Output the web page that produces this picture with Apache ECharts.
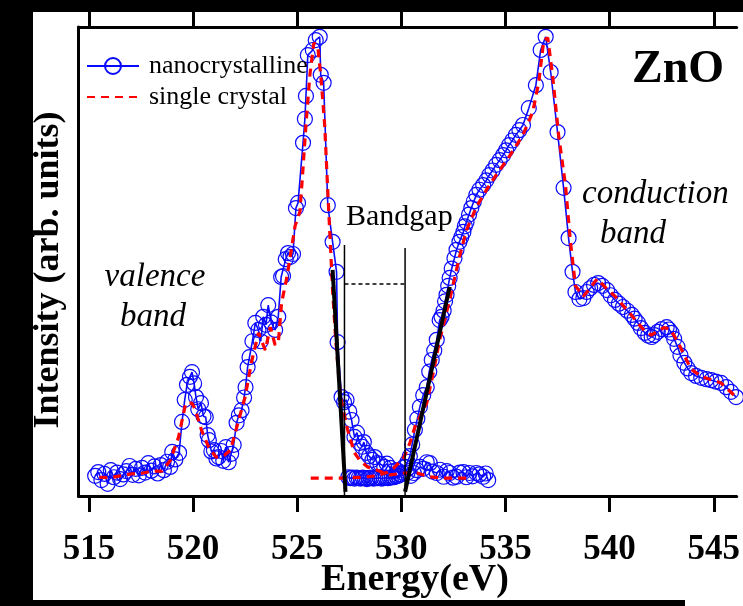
<!DOCTYPE html>
<html><head><meta charset="utf-8">
<script src="https://cdn.jsdelivr.net/npm/echarts@6/dist/echarts.min.js"></script>
<style>
html,body{margin:0;padding:0;background:#000;width:743px;height:606px;overflow:hidden;}
#bg{position:absolute;left:33px;top:12px;width:710px;height:588px;background:#fff;}
#bg2{position:absolute;left:685px;top:600px;width:58px;height:6px;background:#fff;}
#chart{position:absolute;left:0;top:0;width:743px;height:606px;}
</style></head><body>
<div id="bg"></div><div id="bg2"></div><div id="chart"></div>
<script>
// ---- data (energy in eV, intensity in arbitrary units 0..100) ----
const energyTicks = [515, 520, 525, 530, 535, 540, 545];

const nanoValence = [
[515.30,4.3],[515.45,5.1],[515.60,3.4],[515.75,4.7],[515.90,2.6],[516.05,5.5],[516.20,4.0],[516.35,5.0],[516.50,3.6],[516.65,4.6],
[516.80,5.3],[516.95,6.4],[517.10,4.5],[517.25,5.8],[517.40,4.4],[517.55,6.0],[517.70,5.0],[517.85,7.0],[518.00,5.4],[518.15,6.3],
[518.30,4.8],[518.45,6.6],[518.60,5.5],[518.75,7.3],[518.90,6.2],[519.00,9.4],[519.15,7.8],[519.33,9.2],[519.47,15.8],[519.60,20.5],
[519.71,23.7],[519.85,25.4],[519.95,26.4],[520.05,24.0],[520.14,21.1],[520.25,18.5],[520.38,19.8],[520.50,17.0],[520.61,16.8],[520.70,13.0],
[520.76,11.9],[520.88,9.5],[521.00,9.8],[521.12,8.0],[521.23,8.3],[521.35,9.6],[521.45,7.5],[521.57,10.4],[521.71,7.2],[521.83,9.0],
[521.95,10.9],[522.09,15.6],[522.20,17.2],[522.33,18.3],[522.45,21.0],[522.52,23.2],[522.62,27.5],[522.71,29.6],[522.85,33.0],[522.99,36.9],
[523.14,35.4],[523.25,33.0],[523.37,38.2],[523.50,36.5],[523.61,40.7],[523.75,37.0],[523.94,35.4],[524.09,38.2],[524.23,46.7],[524.32,46.9],
[524.45,50.5],[524.56,51.8],[524.68,51.0],[524.80,51.6],[524.94,61.4],[525.04,62.5],[525.28,75.3],[525.37,80.4],[525.42,85.3],[525.51,94.0],
[525.75,95.1],[525.89,97.2],[526.08,97.9],[526.13,89.8],[526.27,88.1],[526.47,62.0],[526.70,54.2],[526.89,47.8],[526.94,32.8],[527.13,21.1],
[527.25,20.0],[527.37,20.5],[527.50,18.0],[527.61,16.2],[527.75,12.6],[527.87,13.5],[527.99,11.3],[528.12,10.5],[528.20,11.5],[528.32,9.2],
[528.45,8.5],[528.61,7.7],[528.72,8.3],[528.84,7.0],[529.00,6.8],[529.18,6.2],[529.30,6.9],[529.46,6.0],[529.60,5.3],[529.80,5.5],
[529.95,4.6],[530.13,6.2],[530.30,5.0],[530.45,4.3],[530.60,4.9],[530.75,5.5],[530.89,6.2],[531.05,5.8],[531.22,7.2],[531.37,7.0],
[531.50,5.2],[531.70,4.9],[531.85,5.6],[532.03,4.1],[532.18,5.3],[532.32,4.9],[532.48,3.9],[532.65,4.1],[532.80,5.0],[532.98,5.1],
[533.12,4.0],[533.27,4.9],[533.42,4.2],[533.60,4.9],[533.75,4.6],[533.93,4.1],[534.05,4.8],[534.17,3.4]
];

const nanoConduction = [
[527.45,4.0],[527.55,3.8],[527.65,3.9],[527.75,3.7],[527.85,3.9],[527.95,3.8],[528.05,3.7],[528.15,3.9],[528.25,3.8],[528.35,3.6],
[528.45,3.8],[528.55,3.9],[528.65,3.7],[528.75,3.8],[528.85,3.8],[528.95,3.9],[529.05,3.7],[529.15,3.8],[529.25,3.9],[529.35,3.8],
[529.45,3.9],[529.55,4.0],[529.65,4.0],[529.75,4.2],[529.85,4.3],[529.95,4.6],[530.05,5.0],[530.20,6.2],[530.30,7.3],[530.41,8.5],
[530.52,11.0],[530.65,14.1],[530.77,16.5],[530.89,19.0],[531.05,21.5],[531.22,23.2],[531.34,26.5],[531.46,29.0],[531.58,31.0],[531.70,33.3],
[531.84,37.5],[531.93,38.2],[532.03,39.5],[532.10,41.5],[532.17,42.9],[532.25,44.8],[532.32,46.5],[532.42,48.5],[532.55,50.7],[532.65,52.5],
[532.79,54.2],[532.88,55.2],[532.98,56.3],[533.05,57.5],[533.13,58.4],[533.25,60.0],[533.36,61.4],[533.48,62.8],[533.60,64.2],[533.75,65.3],
[533.93,66.3],[534.08,67.3],[534.22,68.4],[534.38,69.4],[534.55,70.6],[534.72,71.6],[534.89,72.7],[535.03,73.7],[535.17,74.8],[535.33,75.8],
[535.50,77.0],[535.67,78.0],[535.84,79.1],[536.12,82.7],[536.46,87.6],[536.69,95.1],[536.93,97.9],[537.17,90.4],[537.50,77.6],[537.79,65.7],
[538.03,55.0],[538.22,47.8],[538.36,43.5],[538.55,42.0],[538.74,42.2],[538.90,43.5],[539.07,44.3],[539.25,45.0],[539.45,45.4],[539.65,44.8],
[539.88,43.9],[540.05,42.8],[540.26,41.8],[540.45,41.0],[540.64,40.3],[540.85,39.5],[541.07,38.6],[541.20,37.8],[541.36,36.9],[541.50,35.8],
[541.69,34.8],[541.85,34.2],[542.02,33.9],[542.15,34.3],[542.31,35.0],[542.50,35.6],[542.74,36.0],[542.85,35.5],[542.97,34.8],[543.10,33.5],
[543.26,31.8],[543.40,30.0],[543.59,28.4],[543.75,27.2],[543.92,26.2],[544.15,25.6],[544.40,25.2],[544.65,24.9],[544.88,24.7],[545.10,24.4],
[545.35,24.1],[545.60,23.2],[545.83,22.2],[546.07,21.1]
];

const singleValence = [
[515.50,4.0],[516.00,3.9],[516.50,4.3],[517.00,4.7],[517.50,4.8],[518.00,5.3],[518.50,5.3],[518.90,7.5],[519.30,12.5],[519.65,19.8],
[519.95,19.8],[520.10,18.5],[520.40,14.1],[520.75,10.4],[521.10,8.3],[521.50,8.7],[521.80,9.8],[522.10,14.7],[522.50,21.1],[522.80,28.4],
[523.14,34.8],[523.47,31.1],[523.71,36.0],[523.94,32.2],[524.10,33.0],[524.25,41.2],[524.50,46.5],[524.90,57.6],[525.13,60.6],[525.28,69.9],
[525.42,79.1],[525.61,89.8],[525.80,96.6],[525.99,95.7],[526.13,89.8],[526.32,79.1],[526.47,64.8],[526.70,43.9],[526.85,33.3],[527.08,21.1],
[527.42,14.1],[527.75,9.2],[527.99,7.7],[528.37,6.2],[528.84,5.5],[529.46,4.5],[530.13,4.9],[530.75,4.9],[531.37,4.1],[532.03,3.8],
[532.65,3.8],[533.13,3.8]
];

const singleConduction = [
[525.65,3.8],[526.30,3.8],[527.00,3.8],[527.60,3.9],[528.20,4.0],[528.80,4.3],[529.30,5.0],[529.65,6.0],[530.13,8.3],[530.41,11.3],
[530.65,14.7],[530.95,17.5],[531.22,19.8],[531.56,26.9],[531.84,33.3],[532.32,41.8],[532.79,51.0],[533.13,56.7],[533.60,61.6],[534.08,65.2],
[534.55,68.4],[535.17,72.3],[535.84,77.0],[536.31,81.9],[536.60,88.3],[536.84,97.2],[537.03,97.7],[537.26,89.8],[537.55,77.0],[537.88,66.3],
[538.12,54.2],[538.36,44.8],[538.74,42.6],[539.00,44.0],[539.40,46.3],[539.90,44.0],[540.26,42.6],[541.00,38.8],[541.60,35.6],[542.00,34.3],
[542.60,35.9],[542.90,35.6],[543.26,33.0],[543.90,27.1],[544.40,25.5],[545.35,24.1],[546.07,21.1]
];

// bandgap construction lines
const valenceEdgeFit = [[526.70,48.2],[527.32,0.9]];
const conductionEdgeFit = [[532.32,44.6],[530.18,0.9]];
const gapMarkerLow = [[527.27,53.5],[527.27,0]];
const gapMarkerHigh = [[530.18,52.9],[530.18,0]];
const gapWidthLine = [[527.27,45.2],[530.18,45.2]];

const SERIF = "'Liberation Serif','Times New Roman',serif";
const BLUE = '#0a0aff';
const RED = '#ff0000';

const chart = echarts.init(document.getElementById('chart'), null, {renderer: 'canvas'});

function blueSeries(data) {
  return {
    name: 'nanocrystalline', type: 'line', data: data,
    symbol: 'circle', symbolSize: 15, showSymbol: true,
    itemStyle: {color: 'rgba(0,0,0,0)', borderColor: BLUE, borderWidth: 1.2},
    lineStyle: {color: BLUE, width: 1.6},
    z: 3, silent: true
  };
}
function redSeries(data) {
  return {
    name: 'single crystal', type: 'line', data: data,
    symbol: 'none',
    itemStyle: {color: 'rgba(0,0,0,0)'},
    lineStyle: {color: RED, width: 3.2, type: [8, 6]},
    z: 4, silent: true
  };
}
function blackLine(data, width, type) {
  return {
    type: 'line', data: data, symbol: 'none', silent: true,
    lineStyle: {color: '#000', width: width, type: type || 'solid'},
    z: 5
  };
}

const axisCommon = {
  type: 'value', min: 514.5, max: 546.1,
  splitLine: {show: false},
  axisLine: {show: true, lineStyle: {color: '#000', width: 3}},
  axisTick: {show: true, inside: false, length: 16, customValues: energyTicks, lineStyle: {color: '#000', width: 3}}
};

chart.setOption({
  animation: false,
  backgroundColor: 'transparent',
  grid: {left: 78.5, top: 27, right: 0, height: 469, containLabel: false},
  xAxis: [
    Object.assign({}, axisCommon, {
      position: 'bottom',
      axisLabel: {show: true, customValues: energyTicks, margin: 36, color: '#000',
        fontFamily: SERIF, fontWeight: 'bold', fontSize: 35}
    }),
    Object.assign({}, axisCommon, {
      position: 'top',
      axisTick: {show: true, inside: false, length: 15, customValues: energyTicks, lineStyle: {color: '#000', width: 3}},
      axisLabel: {show: false}
    })
  ],
  yAxis: {
    type: 'value', min: 0, max: 100,
    axisLine: {show: true, lineStyle: {color: '#000', width: 3}},
    axisTick: {show: false}, axisLabel: {show: false}, splitLine: {show: false}
  },
  legend: {
    data: ['nanocrystalline', 'single crystal'],
    orient: 'vertical', left: 81, top: 48,
    itemWidth: 52, itemHeight: 20, itemGap: 5,
    textStyle: {fontFamily: SERIF, fontSize: 26, color: '#000', padding: [0, 0, 0, 5]},
    selectedMode: false
  },
  series: [
    blueSeries(nanoValence),
    blueSeries(nanoConduction),
    redSeries(singleValence),
    redSeries(singleConduction),
    blackLine(valenceEdgeFit, 4),
    blackLine(conductionEdgeFit, 4),
    blackLine(gapMarkerLow, 1.5),
    blackLine(gapMarkerHigh, 1.5),
    blackLine(gapWidthLine, 1.5, [4, 3])
  ],
  graphic: [
    {type: 'text', style: {text: 'ZnO', x: 678, y: 70, textAlign: 'center', textVerticalAlign: 'middle',
      font: "bold 46px 'Liberation Serif','Times New Roman',serif", fill: '#000'}},
    {type: 'text', style: {text: 'Bandgap', x: 346, y: 217, textAlign: 'left', textVerticalAlign: 'middle',
      font: "30px 'Liberation Serif','Times New Roman',serif", fill: '#000'}},
    {type: 'text', style: {text: 'valence', x: 155, y: 277, textAlign: 'center', textVerticalAlign: 'middle',
      font: "italic 33px 'Liberation Serif','Times New Roman',serif", fill: '#000'}},
    {type: 'text', style: {text: 'band', x: 153, y: 317, textAlign: 'center', textVerticalAlign: 'middle',
      font: "italic 33px 'Liberation Serif','Times New Roman',serif", fill: '#000'}},
    {type: 'text', style: {text: 'conduction', x: 582, y: 194, textAlign: 'left', textVerticalAlign: 'middle',
      font: "italic 33px 'Liberation Serif','Times New Roman',serif", fill: '#000'}},
    {type: 'text', style: {text: 'band', x: 600, y: 234, textAlign: 'left', textVerticalAlign: 'middle',
      font: "italic 33px 'Liberation Serif','Times New Roman',serif", fill: '#000'}},
    {type: 'text', style: {text: 'Energy(eV)', x: 415, y: 580, textAlign: 'center', textVerticalAlign: 'middle',
      font: "bold 38px 'Liberation Serif','Times New Roman',serif", fill: '#000'}},
    {type: 'text', rotation: Math.PI / 2, x: 49, y: 270,
      style: {text: 'Intensity (arb. units)', x: 0, y: 0, textAlign: 'center', textVerticalAlign: 'middle',
      font: "bold 36px 'Liberation Serif','Times New Roman',serif", fill: '#000'}}
  ]
});
</script>
</body></html>
